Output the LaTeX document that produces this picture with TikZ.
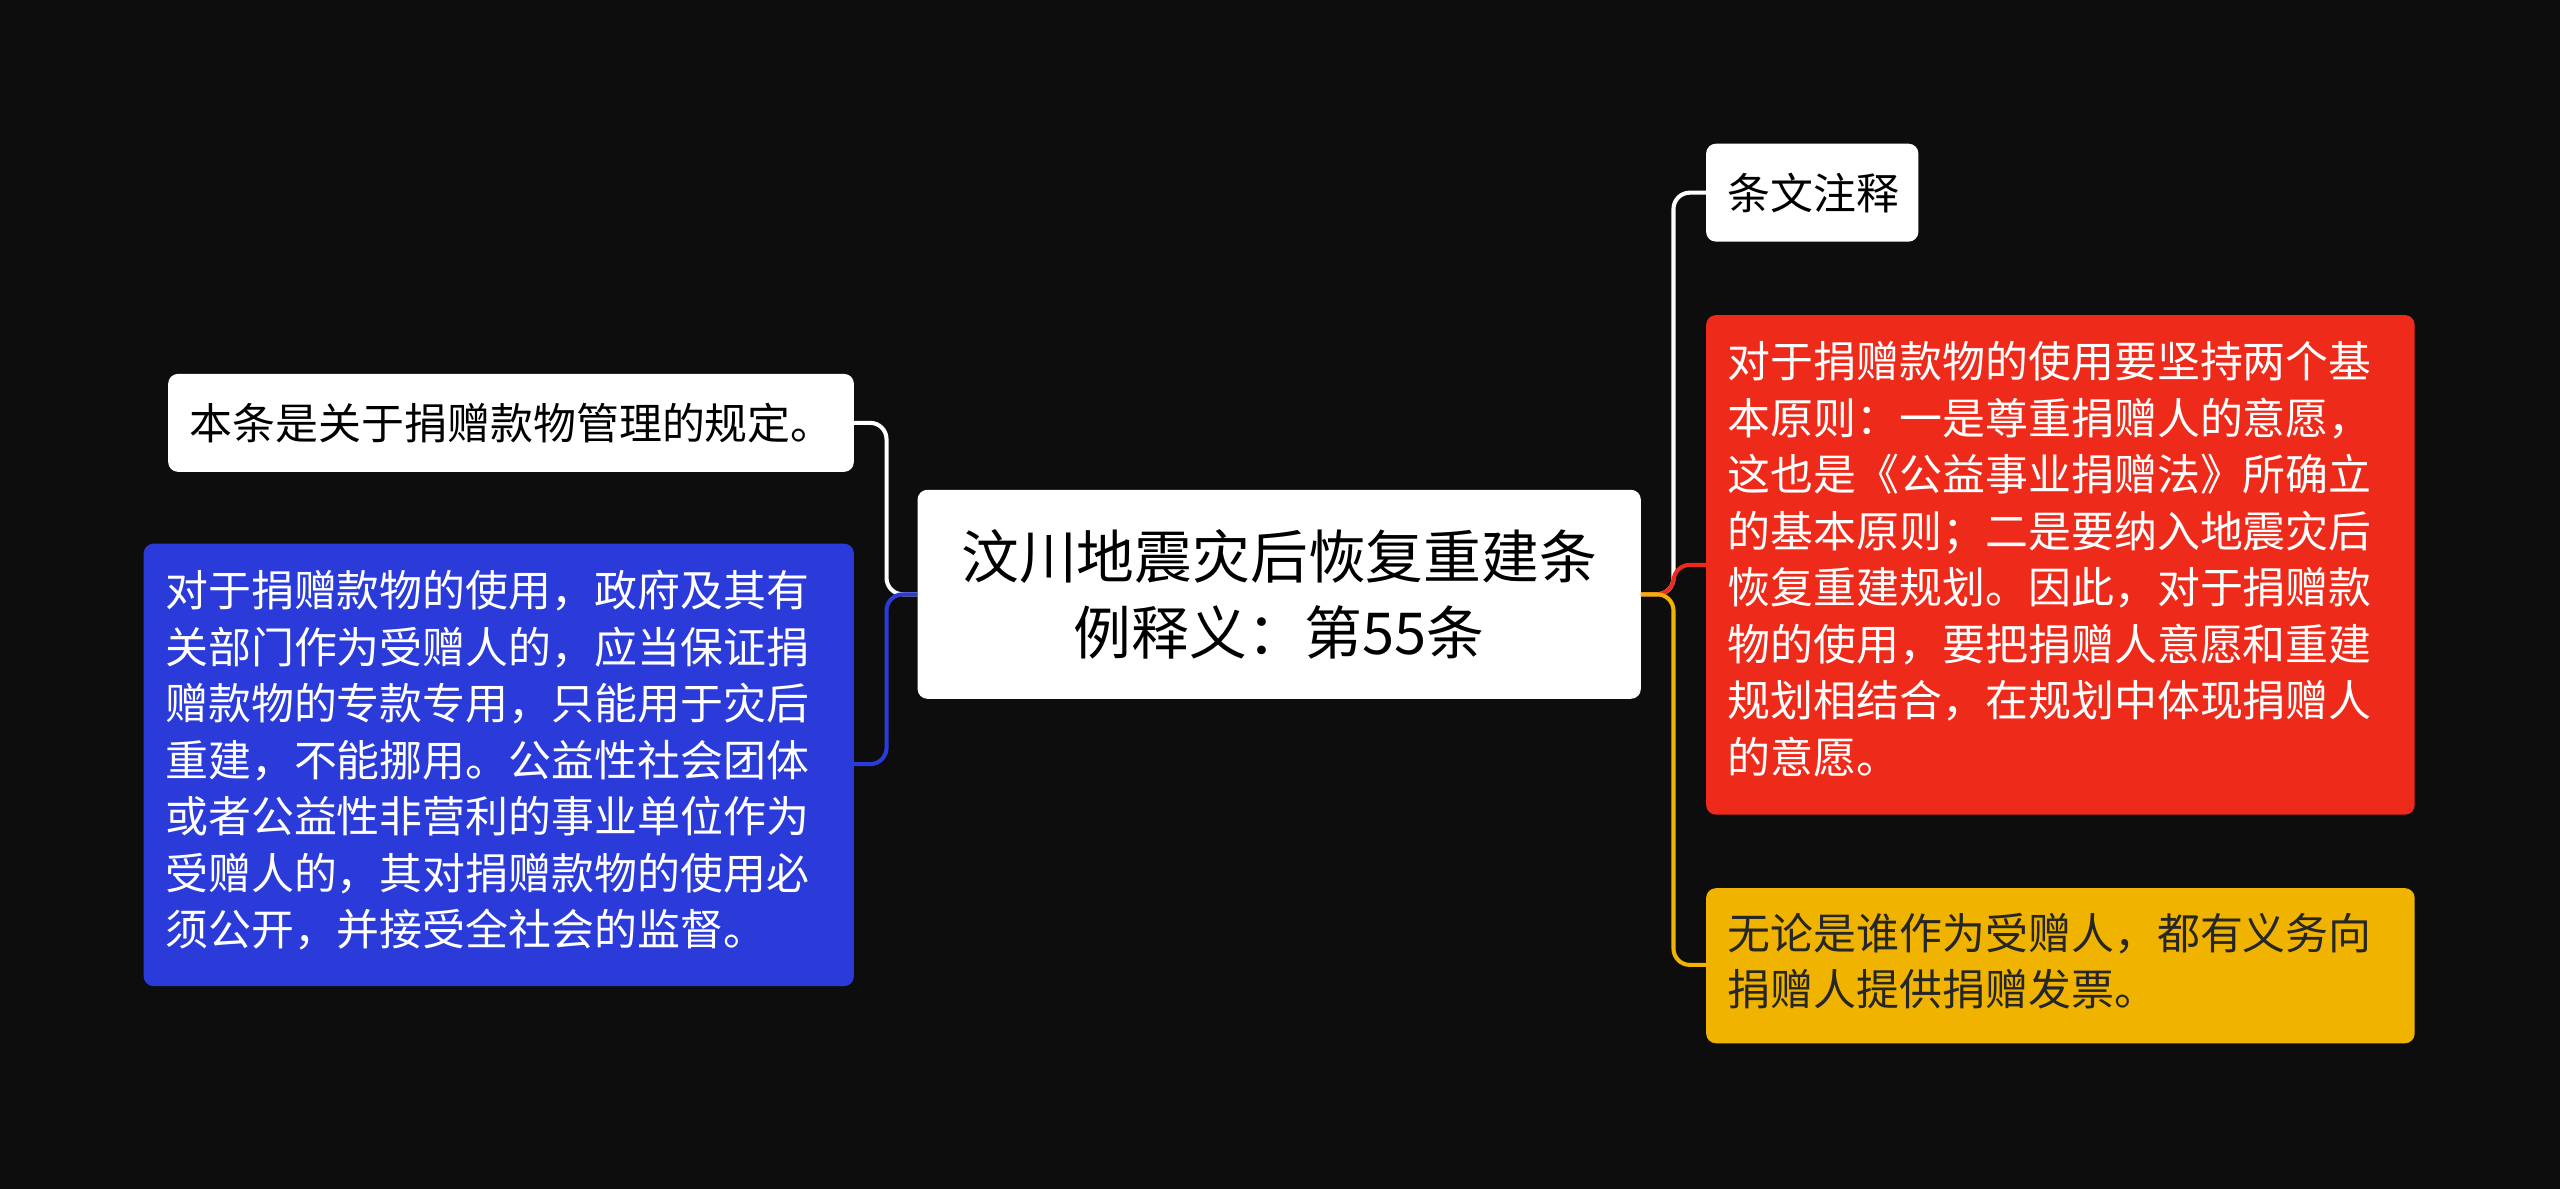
\documentclass[tikz,border=0pt]{standalone}
\usepackage{fontspec}
\newfontfamily\cjk{Noto Sans CJK SC}
\begin{document}
\begin{tikzpicture}[x=1pt,y=-1pt,
  box/.style={rounded corners=6pt,inner sep=0pt,align=left,font=\cjk\fontsize{26.3}{34.6}\selectfont},
  conn/.style={line width=2.5pt,rounded corners=10pt}]
\fill[black!95] (0,0) rectangle (1568,728);
\useasboundingbox (0,0) rectangle (1568,728);
\definecolor{bl}{HTML}{2B3BD9}\definecolor{rd}{HTML}{EE2A1A}\definecolor{yl}{HTML}{F0B400}
\fill[white,rounded corners=6pt] (562,300) rectangle (1005,428);
\node[font=\cjk\fontsize{35.4}{46}\selectfont,align=center] (c) at (783.5,364) {汶川地震灾后恢复重建条\\例释义：第55条};
\coordinate (cl) at (562,364); \coordinate (cr) at (1005,364);
\fill[white,rounded corners=6pt] (103,229) rectangle (523,289);
\node[box,anchor=west] (a) at (116,259) {本条是关于捐赠款物管理的规定。};
\coordinate (ae) at (523,259);
\fill[bl,rounded corners=6pt] (88,333) rectangle (523,604);
\node[box,anchor=north west,text=white] (b) at (101,349) {对于捐赠款物的使用，政府及其有\\关部门作为受赠人的，应当保证捐\\赠款物的专款专用，只能用于灾后\\重建，不能挪用。公益性社会团体\\或者公益性非营利的事业单位作为\\受赠人的，其对捐赠款物的使用必\\须公开，并接受全社会的监督。};
\coordinate (be) at (523,468);
\fill[white,rounded corners=6pt] (1045,88) rectangle (1175,148);
\node[box,anchor=west] (d) at (1058,118) {条文注释};
\coordinate (dw) at (1045,118);
\fill[rd,rounded corners=6pt] (1045,193) rectangle (1479,499);
\node[box,anchor=north west,text=white] (e) at (1058,209) {对于捐赠款物的使用要坚持两个基\\本原则：一是尊重捐赠人的意愿，\\这也是《公益事业捐赠法》所确立\\的基本原则；二是要纳入地震灾后\\恢复重建规划。因此，对于捐赠款\\物的使用，要把捐赠人意愿和重建\\规划相结合，在规划中体现捐赠人\\的意愿。};
\coordinate (ew) at (1045,346);
\fill[yl,rounded corners=6pt] (1045,544) rectangle (1479,639);
\node[box,anchor=north west,text=black!85] (f) at (1058,559) {无论是谁作为受赠人，都有义务向\\捐赠人提供捐赠发票。};
\coordinate (fw) at (1045,591);
\draw[conn,white] (cl) -- (543,364) |- (ae);
\draw[conn,bl] (cl) -- (543,364) |- (be);
\draw[conn,white] (cr) -- (1025,364) |- (dw);
\draw[conn,rd] (cr) -- (1025,364) |- (ew);
\draw[conn,yl] (cr) -- (1025,364) |- (fw);
\end{tikzpicture}
\end{document}
